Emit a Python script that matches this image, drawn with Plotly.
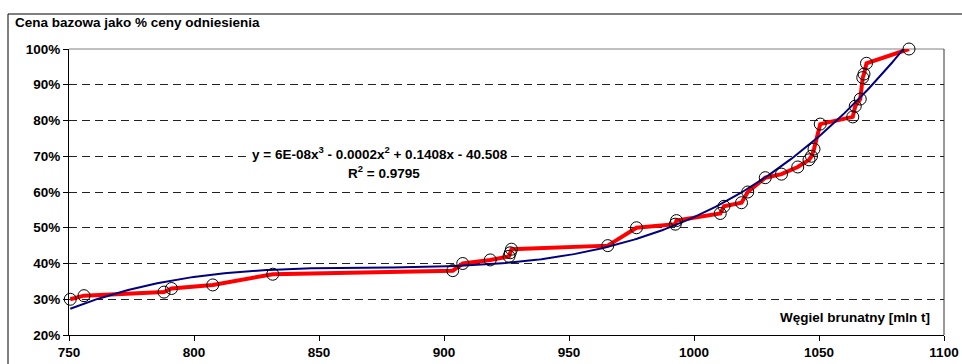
import numpy as np
import plotly.graph_objects as go

# Data
coal_mln_t = [750.5, 756, 788, 791, 807.5, 831.5, 903.5, 907.5, 918.5, 926, 926.5, 927,
              965.5, 977, 992.5, 993, 1010.5, 1012, 1019, 1021.5, 1028.5, 1035, 1041.5,
              1046, 1047, 1048, 1050.5, 1063.5, 1064.5, 1066.5, 1067.5, 1068, 1069, 1086]
price_pct = [30, 31, 32, 33, 34, 37, 38, 40, 41, 42, 43, 44,
             45, 50, 51, 52, 54, 56, 57, 60, 64, 65, 67,
             69, 70, 72, 79, 81, 84, 86, 92, 93, 96, 100]
x_ticks = [750, 800, 850, 900, 950, 1000, 1050, 1100]
y_ticks = [0.2, 0.3, 0.4, 0.5, 0.6, 0.7, 0.8, 0.9, 1.0]

title_text = "Cena bazowa jako % ceny odniesienia"
x_title = "Węgiel brunatny [mln t]"
eq_text = "y = 6E-08x<sup>3</sup> - 0.0002x<sup>2</sup> + 0.1408x - 40.508"
r2_text = "R<sup>2</sup> = 0.9795"

price = [v / 100 for v in price_pct]

# Cubic polynomial trend line (least squares fit of the data, as in the original)
poly = np.polynomial.Polynomial.fit(coal_mln_t, price, 3)
trend_x = np.linspace(min(coal_mln_t), max(coal_mln_t), 300)
trend_y = poly(trend_x)

FONT = "Liberation Sans, Arial, sans-serif"
FS = 13.5

fig = go.Figure()
fig.add_trace(go.Scatter(x=coal_mln_t, y=price, mode="lines",
                         line=dict(color="#FF0000", width=4),
                         cliponaxis=False, showlegend=False))
fig.add_trace(go.Scatter(x=trend_x, y=trend_y, mode="lines",
                         line=dict(color="#000080", width=2),
                         cliponaxis=False, showlegend=False))
fig.add_trace(go.Scatter(x=coal_mln_t, y=price, mode="markers",
                         marker=dict(symbol="circle-open", size=12, color="black",
                                     line=dict(width=1)),
                         cliponaxis=False, showlegend=False))

fig.update_layout(
    width=962, height=364, autosize=False,
    margin=dict(l=69, r=18, t=49, b=29, autoexpand=False),
    paper_bgcolor="white", plot_bgcolor="white",
    font=dict(family=FONT, size=FS, color="black", weight="bold"),
    xaxis=dict(range=[750, 1100], tickvals=x_ticks, ticks="outside", ticklen=5,
               tickcolor="black", showline=True, linecolor="black", linewidth=1,
               showgrid=False, zeroline=False, automargin=False,
               tickfont=dict(family=FONT, size=FS, color="black", weight="bold")),
    yaxis=dict(range=[0.2, 1.0], tickvals=y_ticks, tickformat=".0%", ticks="outside",
               ticklen=5, tickcolor="black", showline=True, linecolor="black",
               linewidth=1, showgrid=True, gridcolor="#222222", gridwidth=1,
               griddash="8px,5px", zeroline=False, automargin=False,
               tickfont=dict(family=FONT, size=FS, color="black", weight="bold")),
    annotations=[
        dict(text=title_text, xref="paper", yref="paper",
             x=(13 - 69) / 875, y=(335 - 22) / 286, xanchor="left", yanchor="middle",
             showarrow=False, font=dict(family=FONT, size=FS, weight="bold")),
        dict(text=x_title, xref="x", yref="y", x=1095.2, y=0.2503,
             xanchor="right", yanchor="middle", showarrow=False,
             font=dict(family=FONT, size=FS, weight="bold")),
        dict(text=eq_text, xref="x", yref="y", x=874.4, y=0.709,
             xanchor="center", yanchor="middle", showarrow=False,
             bgcolor="white", borderpad=1,
             font=dict(family=FONT, size=FS, weight="bold")),
        dict(text=r2_text, xref="x", yref="y", x=876, y=0.657,
             xanchor="center", yanchor="middle", showarrow=False,
             bgcolor="white", borderpad=1,
             font=dict(family=FONT, size=FS, weight="bold")),
    ],
    shapes=[
        # plot area top and right border
        dict(type="line", xref="paper", yref="paper", x0=0, x1=1, y0=1, y1=1,
             line=dict(color="#808080", width=1), layer="between"),
        dict(type="line", xref="paper", yref="paper", x0=1, x1=1, y0=0, y1=1,
             line=dict(color="#333333", width=1), layer="between"),
        # outer chart border
        dict(type="rect", xref="paper", yref="paper",
             x0=(8 - 69) / 875, x1=(975 - 69) / 875,
             y0=(335 - 380) / 286, y1=(335 - 14) / 286,
             line=dict(color="black", width=1), fillcolor="rgba(0,0,0,0)", layer="below"),
    ],
)

fig.write_html("out.html", config={"displayModeBar": False},
               post_script="document.body.style.margin='0px';document.body.style.padding='0px';")
